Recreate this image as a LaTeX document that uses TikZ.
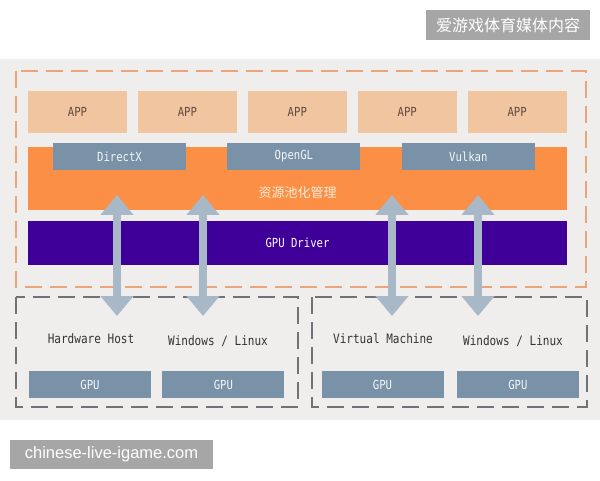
\documentclass[tikz,border=0pt]{standalone}
\usepackage{fontspec}
\setmainfont{Liberation Sans}
\newfontfamily\labelfont[FakeStretch=0.85]{DejaVu Sans Mono}
\newfontfamily\cjk{Noto Sans CJK SC}
\usetikzlibrary{arrows.meta, positioning}

\definecolor{panelgray}{HTML}{EFEEEC}
\definecolor{dashorange}{HTML}{EBA57A}
\definecolor{appfill}{HTML}{F2C5A1}
\definecolor{apptext}{HTML}{5E4A3E}
\definecolor{poolorange}{HTML}{FB8F45}
\definecolor{pooltext}{HTML}{FDEBD6}
\definecolor{apifill}{HTML}{7A92A8}
\definecolor{driverpurple}{HTML}{3E0098}
\definecolor{linkgray}{HTML}{A9B8C7}
\definecolor{dashgray}{HTML}{6F7377}
\definecolor{wmgray}{HTML}{A6A6A6}

\begin{document}
\begin{tikzpicture}[
        x=1pt, y=1pt,
        node distance=10.5pt,
        app/.style={rectangle, fill=appfill, text=apptext, minimum width=99pt, minimum height=42pt, inner sep=0pt, font=\labelfont\fontsize{12.5}{14}\selectfont},
        api/.style={rectangle, fill=apifill, text=white!92!apifill, minimum width=133pt, minimum height=27pt, inner sep=0pt, font=\labelfont\fontsize{12.5}{14}\selectfont},
        gpu/.style={rectangle, fill=apifill, text=white!92!apifill, minimum width=122pt, minimum height=27pt, inner sep=0pt, font=\labelfont\fontsize{12.5}{14}\selectfont},
        bar/.style={rectangle, minimum width=539pt, inner sep=0pt},
        hostname/.style={text=black!80, font=\labelfont\fontsize{13}{15}\selectfont},
        link/.style={line width=8pt, draw=linkgray, {Triangle[width=32pt,length=20pt]}-{Triangle[width=32pt,length=20pt]}},
        wm/.style={rectangle, fill=wmgray, text=white, inner sep=0pt}
    ]
        \useasboundingbox (0,0) rectangle (600,480);
        \fill[white] (0,0) rectangle (600,480);
        \fill[panelgray] (0,60) rectangle (600,421);

        % Pooled part (orange dashed)
        \draw[dashorange, line width=2pt, dash pattern=on 17pt off 8pt] (16,409) rectangle (586,193);

        % Top Row
        \node[app] (app1) at (77.5,368) {APP};
        \node[app, right=of app1] (app2) {APP};
        \node[app, right=of app2] (app3) {APP};
        \node[app, right=of app3] (app4) {APP};
        \node[app, right=of app4] (app5) {APP};

        % Resource pool with the APIs on it
        \node[bar, fill=poolorange, minimum height=63pt] (pool) at (297.5,301.5) {};
        \node[text=pooltext, font=\cjk\fontsize{13}{15}\selectfont] (pooltitle) at (297.5,287) {资源池化管理};
        \node[api] (directx) at (119.5,323.5) {DirectX};
        \node[api, right=41pt of directx] (opengl) {OpenGL};
        \node[api, right=41pt of opengl] (vulkan) {Vulkan};

        % Driver
        \node[bar, fill=driverpurple, text=white, minimum height=44pt, font=\labelfont\fontsize{12.5}{14}\selectfont] (driver) at (297.5,237) {GPU Driver};

        % Bottom Row (hosts)
        \draw[dashgray, line width=2pt, dash pattern=on 17pt off 8pt] (16,183) rectangle (298,73);
        \draw[dashgray, line width=2pt, dash pattern=on 17pt off 8pt] (312,183) rectangle (587,73);

        \node[hostname] (hw) at (91,141) {Hardware Host};
        \node[hostname] (os1) at (218,139) {Windows / Linux};
        \node[hostname] (vm) at (383,141) {Virtual Machine};
        \node[hostname] (os2) at (513,139) {Windows / Linux};

        \node[gpu] (gpu1) at (90,95.5) {GPU};
        \node[gpu, right=11pt of gpu1] (gpu2) {GPU};
        \node[gpu] (gpu3) at (382.5,95.5) {GPU};
        \node[gpu, right=13pt of gpu3] (gpu4) {GPU};

        % Arrows between pool and hosts
        \foreach \i/\x in {1/117, 2/203, 3/392, 4/478} {
            \coordinate (top\i) at (\x,285);
            \coordinate (bot\i) at (\x,164);
        }
        \foreach \i in {1,...,4}
            \draw[link] (top\i) -- (bot\i);

        % Watermarks
        \node[wm, minimum width=164pt, minimum height=30pt, font=\cjk\fontsize{16}{18}\selectfont] (wmtop) at (508,455) {爱游戏体育媒体内容};
        \node[wm, minimum width=203pt, minimum height=29pt, font=\fontsize{16.5}{18}\selectfont] (wmbottom) at (111.5,25.5) {chinese-live-igame.com};
    \end{tikzpicture}
\end{document}
